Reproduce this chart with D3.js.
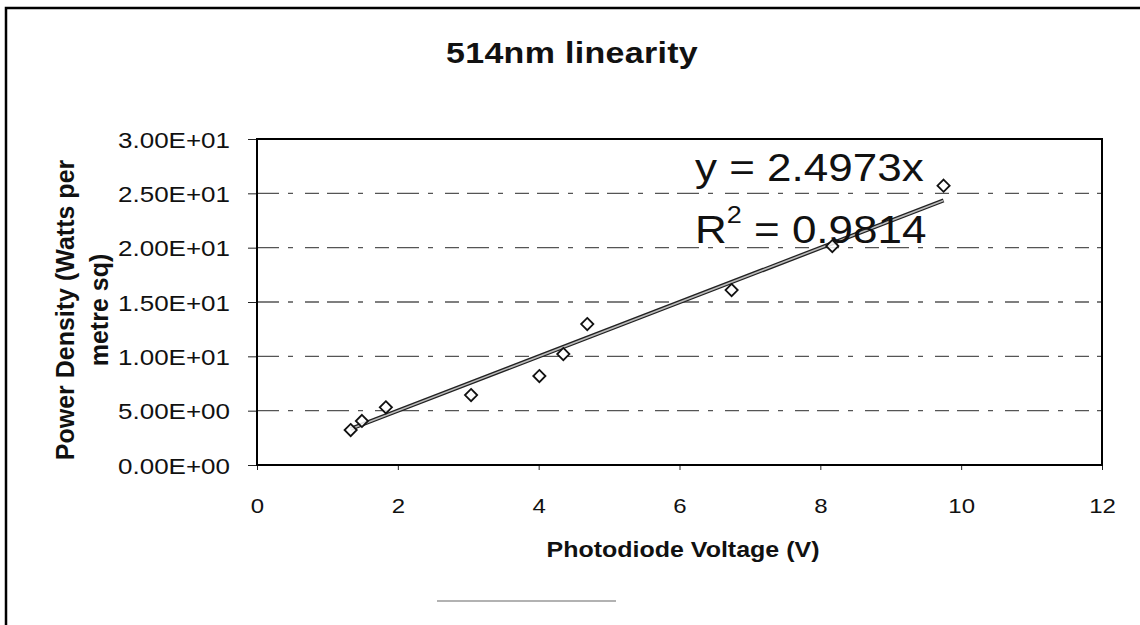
<!DOCTYPE html>
<html>
<head>
<meta charset="utf-8">
<script src="https://cdn.jsdelivr.net/npm/d3@7"></script>
<style>
  html, body { margin: 0; padding: 0; background: #fff; }
  svg { display: block; }
  text { font-family: "Liberation Sans", Arial, Helvetica, sans-serif; fill: #111; }
</style>
</head>
<body>
<svg id="chart" width="1140" height="625"></svg>
<script>
// Measured photodiode voltage (V) and corresponding power density (W/m^2)
const voltage = [1.33, 1.49, 1.83, 3.04, 4.01, 4.35, 4.69, 6.74, 8.17, 9.75];
const powerDensity = [3.22, 4.05, 5.31, 6.44, 8.19, 10.21, 12.97, 16.1, 20.15, 25.7];

// Linear fit through the origin
const slope = 2.4973;
const rSquared = 0.9814;

// Axis ticks
const xTicks = [0, 2, 4, 6, 8, 10, 12];
const yTicks = [0, 5, 10, 15, 20, 25, 30];
const yTickLabels = ["0.00E+00", "5.00E+00", "1.00E+01", "1.50E+01", "2.00E+01", "2.50E+01", "3.00E+01"];

const title = "514nm linearity";
const xTitle = "Photodiode Voltage (V)";
const yTitleLines = ["Power Density (Watts per", "metre sq)"];

const svg = d3.select("#chart");
const squash = 0.87; // glyphs are slightly flattened vertically

const plot = { left: 257, right: 1102, top: 139, bottom: 465 };
const x = d3.scaleLinear().domain([0, 12]).range([plot.left, plot.right]);
const y = d3.scaleLinear().domain([0, 30]).range([plot.bottom, plot.top]);

// Outer chart frame (top and left edges)
svg.append("path")
  .attr("d", "M6,625 L6,8 L1140,8")
  .attr("fill", "none").attr("stroke", "#000").attr("stroke-width", 2.5);

// faint rule near the bottom of the page
svg.append("line")
  .attr("x1", 437).attr("x2", 616).attr("y1", 601).attr("y2", 601)
  .attr("stroke", "#999").attr("stroke-width", 1.5);

// Dashed horizontal gridlines
svg.append("g").selectAll("line")
  .data(yTicks.filter(d => d > 0 && d < 30))
  .join("line")
  .attr("x1", plot.left).attr("x2", plot.right)
  .attr("y1", d => y(d)).attr("y2", d => y(d))
  .attr("stroke", "#555").attr("stroke-width", 1.3)
  .attr("stroke-dasharray", "22 9 5 12 14 8");

// Y axis
const yAxis = svg.append("g")
  .attr("transform", `translate(${plot.left},0)`)
  .call(d3.axisLeft(y).tickValues(yTicks).tickSize(9).tickPadding(18)
    .tickFormat((d, i) => yTickLabels[i]));
yAxis.select(".domain").remove();
yAxis.selectAll(".tick line").attr("stroke", "#222");
yAxis.selectAll(".tick text")
  .attr("font-size", 26).attr("dy", 0)
  .attr("fill", "#111")
  .attr("transform", `translate(0,${0.36 * 26 * squash}) scale(1,${squash})`);

// X axis
const xAxis = svg.append("g")
  .attr("transform", `translate(0,${plot.bottom})`)
  .call(d3.axisBottom(x).tickValues(xTicks).tickSize(5).tickFormat(d3.format("d")));
xAxis.select(".domain").remove();
xAxis.selectAll(".tick line").attr("stroke", "#222");
xAxis.selectAll(".tick text")
  .attr("font-size", 24).attr("y", 0).attr("dy", 0)
  .attr("fill", "#111")
  .attr("transform", `translate(0,48) scale(1,${squash})`);

// Plot area border
svg.append("rect")
  .attr("x", plot.left).attr("y", plot.top)
  .attr("width", plot.right - plot.left).attr("height", plot.bottom - plot.top)
  .attr("fill", "none").attr("stroke", "#000").attr("stroke-width", 2);

// Trendline from first to last measurement
const xMin = d3.min(voltage), xMax = d3.max(voltage);
const trend = [[xMin, slope * xMin], [xMax, slope * xMax]];
const lineGen = d3.line().x(d => x(d[0])).y(d => y(d[1]));
svg.append("path").attr("d", lineGen(trend))
  .attr("stroke", "#222").attr("stroke-width", 4.2).attr("fill", "none");
svg.append("path").attr("d", lineGen(trend))
  .attr("stroke", "#bbb").attr("stroke-width", 1.6).attr("fill", "none");

// Data markers: open diamonds
const pts = voltage.map((v, i) => ({ v, p: powerDensity[i] }));
svg.append("g").selectAll("path")
  .data(pts)
  .join("path")
  .attr("d", d3.symbol(d3.symbolDiamond2, 95)())
  .attr("transform", d => `translate(${x(d.v)},${y(d.p)})`)
  .attr("fill", "#fff").attr("fill-opacity", 0.85)
  .attr("stroke", "#111").attr("stroke-width", 1.8);

// Fit equation and R squared
const eqSize = 44;
svg.append("text")
  .attr("transform", `translate(695,181) scale(1,0.9)`)
  .attr("font-size", eqSize)
  .text(`y = ${slope}x`);
const r2 = svg.append("text")
  .attr("transform", `translate(695,243) scale(1,0.9)`)
  .attr("font-size", eqSize);
r2.append("tspan").text("R");
r2.append("tspan").attr("font-size", 27).attr("dy", -22).text("2");
r2.append("tspan").attr("dy", 22).text(` = ${rSquared}`);

// Chart title
svg.append("text")
  .attr("transform", `translate(572,63) scale(1,0.85)`)
  .attr("text-anchor", "middle")
  .attr("font-size", 34).attr("font-weight", "bold")
  .attr("letter-spacing", 0.3)
  .text(title);

// X axis title
svg.append("text")
  .attr("transform", `translate(683,557) scale(1,0.85)`)
  .attr("text-anchor", "middle")
  .attr("font-size", 25).attr("font-weight", "bold")
  .text(xTitle);

// Y axis title (two lines, rotated)
const yt = svg.append("text")
  .attr("transform", `translate(74,310) rotate(-90)`)
  .attr("text-anchor", "middle")
  .attr("font-size", 25).attr("font-weight", "bold");
yTitleLines.forEach((line, i) => {
  yt.append("tspan").attr("x", 0).attr("dy", i === 0 ? 0 : 34).text(line);
});
</script>
</body>
</html>
